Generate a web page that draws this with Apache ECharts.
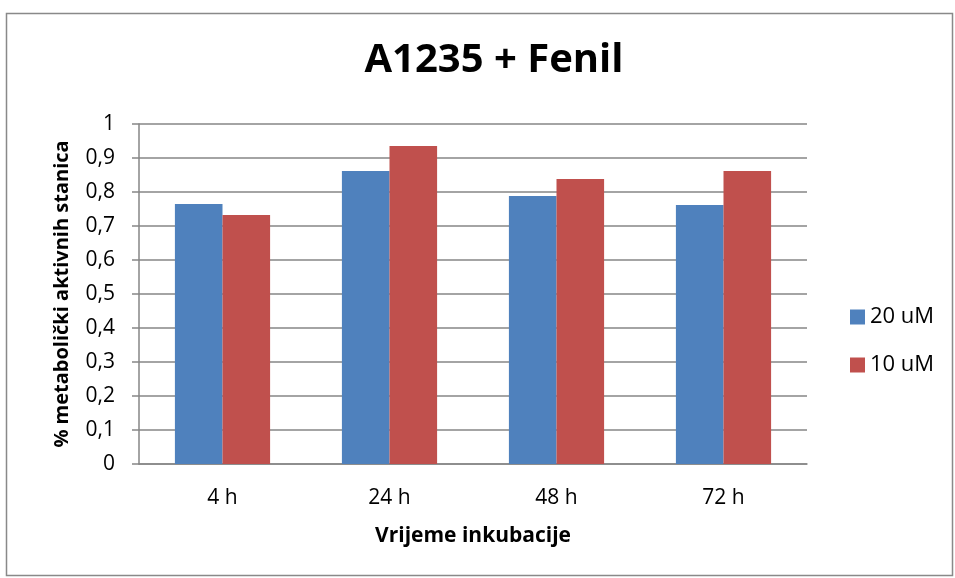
<!DOCTYPE html>
<html>
<head>
<meta charset="utf-8">
<script src="https://cdn.jsdelivr.net/npm/echarts@6/dist/echarts.min.js"></script>
<style>html,body{margin:0;padding:0;background:#fff}#c{width:955px;height:578px}</style>
</head>
<body>
<div id="c"></div>
<script>
var categories = ['4 h', '24 h', '48 h', '72 h'];
var series20 = [0.765, 0.862, 0.788, 0.762];
var series10 = [0.732, 0.935, 0.838, 0.862];
var seriesNames = ['20 uM', '10 uM'];
var yTicks = ['0', '0,1', '0,2', '0,3', '0,4', '0,5', '0,6', '0,7', '0,8', '0,9', '1'];

var fontFam = '"Open Sans", "Noto Sans", sans-serif';
var chart = echarts.init(document.getElementById('c'));
chart.setOption({
  animation: false,
  graphic: [{
    type: 'rect', left: 4, top: 11, z: -1,
    shape: { width: 946, height: 562 },
    style: { fill: 'none', stroke: '#898989', lineWidth: 1.5 }
  }],
  title: {
    text: 'A1235 + Fenil', left: 489, textAlign: 'center', top: 36,
    textStyle: { fontFamily: fontFam, fontWeight: 'bold', fontSize: 40, color: '#000' }
  },
  legend: {
    orient: 'vertical', left: 845, top: 301, itemGap: 26,
    itemWidth: 15, itemHeight: 15, icon: 'rect',
    textStyle: { fontFamily: fontFam, fontSize: 22, color: '#000' },
    data: seriesNames
  },
  grid: { left: 139, top: 124, width: 668, height: 340, containLabel: false },
  xAxis: {
    type: 'category', data: categories,
    name: 'Vrijeme inkubacije', nameLocation: 'middle', nameGap: 62,
    nameTextStyle: { fontFamily: fontFam, fontWeight: 'bold', fontSize: 21, color: '#000' },
    axisLine: { lineStyle: { color: '#868686', width: 1.5 } },
    axisTick: { show: false },
    axisLabel: { fontFamily: fontFam, fontSize: 21, color: '#000', margin: 24 }
  },
  yAxis: {
    type: 'value', min: 0, max: 1, interval: 0.1,
    name: '% metabolički aktivnih stanica', nameLocation: 'middle', nameGap: 67,
    nameTextStyle: { fontFamily: fontFam, fontWeight: 'bold', fontSize: 20, color: '#000' },
    axisLine: { show: true, lineStyle: { color: '#868686', width: 1.5 } },
    axisTick: { show: true, length: 7, lineStyle: { color: '#868686', width: 1.5 } },
    splitLine: { lineStyle: { color: '#868686', width: 1.5 } },
    axisLabel: {
      fontFamily: fontFam, fontSize: 21, color: '#000', margin: 24,
      formatter: function (v) { return yTicks[Math.round(v * 10)]; }
    }
  },
  series: [
    { name: seriesNames[0], type: 'bar', data: series20, barGap: '0%', barCategoryGap: '43%',
      itemStyle: { color: '#4f81bd' } },
    { name: seriesNames[1], type: 'bar', data: series10, barGap: '0%', barCategoryGap: '43%',
      itemStyle: { color: '#c0504d' } }
  ]
});
</script>
</body>
</html>
